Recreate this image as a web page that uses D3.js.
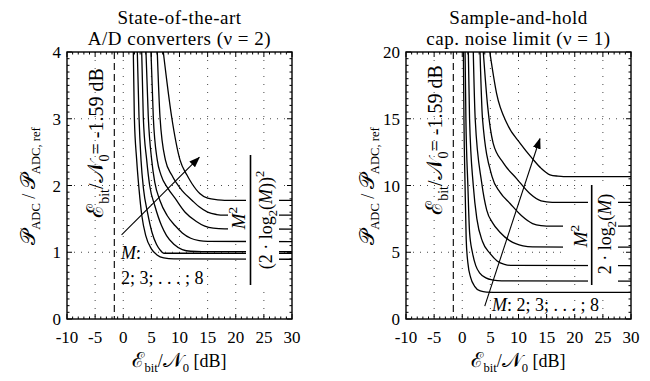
<!DOCTYPE html>
<html lang="en">
<head>
<meta charset="UTF-8">
<title>ADC power vs Eb/N0</title>
<script src="https://d3js.org/d3.v7.min.js"></script>
<style>
    body { margin: 0; padding: 0; background: #fff; }
    svg text { font-family: "Liberation Serif", "DejaVu Serif", serif; fill: #000; }
</style>
</head>
<body>
<div id="main"></div>
<script>
    // shared x axis: Eb/N0 in dB
    var xTicks = [-10, -5, 0, 5, 10, 15, 20, 25, 30];
    var xTickLabels = ['-10', '-5', '0', '5', '10', '15', '20', '25', '30'];
    var shannonLimit = -1.59;
    var mValues = [2, 3, 4, 5, 6, 7, 8];

    // left panel: state-of-the-art A/D converters (nu = 2)
    var leftYTicks = [0, 1, 2, 3, 4];
    var leftM2 = [[2.5, 4], [2.8, 3.03], [3.16, 2.38], [3.6, 1.95], [4.3, 1.6], [5.1, 1.3], [5.9, 1.12], [6.5, 1.04], [7.2, 0.985], [30, 0.985]];
    var leftM3 = [[1.79, 4], [1.97, 3.03], [2.39, 2.38], [2.8, 1.95], [3.3, 1.55], [4.0, 1.25], [5.0, 1.05], [6.0, 0.96], [7.2, 0.915], [9, 0.9], [30, 0.895]];
    var leftM4 = [[3.28, 4], [3.56, 3.03], [4.17, 2.38], [4.7, 2.0], [5.6, 1.7], [6.8, 1.4], [7.7, 1.25], [9, 1.12], [10.5, 1.04], [12, 1.015], [14, 1.01], [30, 1.01]];
    var leftM5 = [[4.04, 4], [4.45, 3.03], [5.06, 2.38], [5.6, 2.05], [6.5, 1.78], [7.8, 1.55], [9.2, 1.4], [10.5, 1.29], [12, 1.21], [13.5, 1.175], [15, 1.163], [30, 1.159]];
    var leftM6 = [[4.93, 4], [5.34, 3.03], [6.05, 2.38], [6.7, 2.16], [8, 1.95], [9.2, 1.81], [11, 1.6], [13, 1.46], [14.5, 1.39], [16, 1.36], [18, 1.35], [30, 1.347]];
    var leftM7 = [[6.05, 4], [6.53, 3.03], [7.5, 2.38], [8.6, 2.16], [10.5, 1.92], [12.2, 1.78], [13.5, 1.68], [15, 1.6], [16.6, 1.565], [18, 1.555], [30, 1.555]];
    var leftM8 = [[7.12, 4], [8.6, 3.03], [10.1, 2.38], [11.3, 2.16], [12.2, 2.03], [13.6, 1.88], [15, 1.81], [16.8, 1.785], [18, 1.778], [30, 1.778]];
    var leftArrow = [[-0.3, 1.26], [13.5, 2.42]];

    // right panel: sample-and-hold cap. noise limit (nu = 1)
    var rightYTicks = [0, 5, 10, 15, 20];
    var rightM2 = [[0.2, 20], [0.3, 15], [0.5, 10], [0.7, 6], [1.0, 4.2], [1.5, 3.1], [2.2, 2.45], [3.2, 2.1], [4.3, 2.01], [5.5, 2.0], [30, 2.0]];
    var rightM3 = [[0.5, 20], [0.65, 15], [1.0, 10], [1.3, 6.5], [1.8, 5.0], [2.4, 4.0], [3.16, 3.42], [4.2, 3.08], [5.5, 2.92], [7, 2.86], [30, 2.84]];
    var rightM4 = [[1.08, 20], [1.3, 15], [1.96, 10], [2.6, 7.5], [3.6, 5.8], [4.93, 4.92], [6.2, 4.35], [7.5, 4.1], [9, 4.01], [30, 4.0]];
    var rightM5 = [[1.96, 20], [2.3, 15], [3.46, 10.2], [4.35, 8.16], [5.4, 7.2], [6.7, 6.5], [8.5, 5.85], [10.8, 5.48], [12.5, 5.4], [30, 5.38]];
    var rightM6 = [[3.16, 20], [3.6, 15], [5.3, 10.66], [6.7, 9.5], [8.5, 8.65], [10.5, 7.75], [12.5, 7.15], [14, 7.0], [16, 6.96], [30, 6.96]];
    var rightM7 = [[3.74, 20], [4.5, 16], [5.5, 13.16], [7.3, 11.7], [9.7, 10.5], [12, 9.4], [14, 8.85], [16, 8.74], [30, 8.73]];
    var rightM8 = [[4.9, 20], [6.1, 16.9], [8, 14.6], [10.3, 13.16], [12.5, 12.0], [14, 11.3], [15.6, 10.8], [17, 10.7], [18, 10.67], [30, 10.67]];
    var rightArrow = [[4.0, 0.97], [13.8, 13.5]];

    var W = 650, H = 381;
    var plotTop = 52, plotBottom = 319, plotWidth = 225;

    var svg = d3.select('#main').append('svg')
        .attr('width', W).attr('height', H);

    var defs = svg.append('defs');
    defs.append('marker')
        .attr('id', 'arrowhead')
        .attr('viewBox', '0 0 10 10')
        .attr('refX', 9).attr('refY', 5)
        .attr('markerWidth', 11).attr('markerHeight', 8)
        .attr('markerUnits', 'userSpaceOnUse')
        .attr('preserveAspectRatio', 'none')
        .attr('orient', 'auto')
        .append('path').attr('d', 'M0,0 L10,5 L0,10 z').attr('fill', '#000');

    // text with sub/superscripts: parts = [text, 'sub'|'sup'|'big'|'', italic]
    function addParts(t, parts, size) {
        var shift = 0;
        parts.forEach(function(pt) {
            var s = pt[1] || '';
            var want = s === 'sub' ? size * 0.3 : (s === 'sup' ? -size * 0.42 : 0);
            var ts = t.append('tspan').text(pt[0]).attr('dy', want - shift);
            shift = want;
            if (s === 'sub' || s === 'sup') ts.style('font-size', (size * 0.7) + 'px');
            if (s === 'big') ts.style('font-size', (size * 1.15) + 'px');
            if (pt[2]) ts.style('font-style', 'italic');
        });
        return t;
    }

    var ebnoParts = [['ℰ', 'big'], ['bit', 'sub'], ['/'], ['𝒩', 'big'], ['0', 'sub']];
    var padcParts = [['𝒫', 'big'], ['ADC', 'sub'], [' / '], ['𝒫', 'big'], ['ADC, ref', 'sub']];

    function drawPanel(p) {
        var x = d3.scaleLinear().domain([-10, 30]).range([p.left, p.left + plotWidth]);
        var y = d3.scaleLinear().domain([0, p.yMax]).range([plotBottom, plotTop]);
        var g = svg.append('g');

        defs.append('clipPath').attr('id', 'clip' + p.id)
            .append('rect')
            .attr('x', p.left).attr('y', plotTop)
            .attr('width', plotWidth).attr('height', plotBottom - plotTop);

        // dotted grid
        g.selectAll('.vgrid').data(xTicks.slice(1, -1)).enter().append('line')
            .attr('x1', d => x(d)).attr('x2', d => x(d))
            .attr('y1', plotTop).attr('y2', plotBottom)
            .attr('stroke', '#333').attr('stroke-width', 0.9)
            .attr('stroke-dasharray', '1,7');
        g.selectAll('.hgrid').data(p.yTicks.slice(1, -1)).enter().append('line')
            .attr('x1', p.left).attr('x2', p.left + plotWidth)
            .attr('y1', d => y(d)).attr('y2', d => y(d))
            .attr('stroke', '#333').attr('stroke-width', 0.9)
            .attr('stroke-dasharray', '1,6');

        // Shannon limit
        g.append('line')
            .attr('x1', x(shannonLimit)).attr('x2', x(shannonLimit))
            .attr('y1', plotTop).attr('y2', plotBottom)
            .attr('stroke', '#000').attr('stroke-width', 1.1)
            .attr('stroke-dasharray', '7,4');

        var line = d3.line()
            .x(d => x(d[0])).y(d => y(d[1]))
            .curve(d3.curveMonotoneX);

        g.append('g').attr('clip-path', 'url(#clip' + p.id + ')')
            .selectAll('path').data(p.curves).enter().append('path')
            .attr('d', line)
            .attr('fill', 'none').attr('stroke', '#000').attr('stroke-width', 1.3);

        // white boxes behind the M^2 / denominator labels
        p.masks.forEach(function(m) {
            g.append('rect')
                .attr('x', p.left + m[0]).attr('y', m[1])
                .attr('width', m[2]).attr('height', m[3])
                .attr('fill', '#fff');
        });

        // M^2 over denominator, rotated
        addParts(g.append('text')
            .attr('transform', 'translate(' + (p.left + p.num[0]) + ',' + p.num[1] + ') rotate(-90)')
            .attr('text-anchor', 'middle').style('font-size', '19px'),
            [['M', '', true], ['2', 'sup']], 19);
        g.append('line')
            .attr('x1', p.left + p.bar[0]).attr('x2', p.left + p.bar[0])
            .attr('y1', p.bar[1]).attr('y2', p.bar[2])
            .attr('stroke', '#000').attr('stroke-width', 1.6);
        addParts(g.append('text')
            .attr('transform', 'translate(' + (p.left + p.den[0]) + ',' + p.den[1] + ') rotate(-90)')
            .attr('text-anchor', 'middle').style('font-size', '18px'),
            p.denParts, 18);

        // Shannon limit label
        addParts(g.append('text')
            .attr('transform', 'translate(' + (p.left + p.lim[0]) + ',' + p.lim[1] + ') rotate(-90)')
            .attr('text-anchor', 'middle').style('font-size', '20px'),
            ebnoParts.concat([['= -1.59 dB']]), 20);

        // arrow for increasing M
        g.append('line')
            .attr('x1', x(p.arrow[0][0])).attr('y1', y(p.arrow[0][1]))
            .attr('x2', x(p.arrow[1][0])).attr('y2', y(p.arrow[1][1]))
            .attr('stroke', '#000').attr('stroke-width', 1.1)
            .attr('marker-end', 'url(#arrowhead)');

        p.mLabel.forEach(function(l) {
            addParts(g.append('text')
                .attr('x', p.left + l[0]).attr('y', l[1])
                .style('font-size', '18px'), l[2], 18);
        });

        // frame and inward ticks
        var xMinor = d3.range(-10, 31, 1);
        var yMinor = d3.range(0, 41).map(i => i * p.yMax / 40);
        var tickSel = g.append('g').attr('stroke', '#000').attr('stroke-width', 1);
        xMinor.forEach(function(v) {
            var len = (v % 5 === 0) ? 5 : 2.5;
            tickSel.append('line').attr('x1', x(v)).attr('x2', x(v)).attr('y1', plotBottom).attr('y2', plotBottom - len);
            tickSel.append('line').attr('x1', x(v)).attr('x2', x(v)).attr('y1', plotTop).attr('y2', plotTop + len);
        });
        yMinor.forEach(function(v, i) {
            var len = (i % 10 === 0) ? 5 : 2.5;
            tickSel.append('line').attr('y1', y(v)).attr('y2', y(v)).attr('x1', p.left).attr('x2', p.left + len);
            tickSel.append('line').attr('y1', y(v)).attr('y2', y(v)).attr('x1', p.left + plotWidth).attr('x2', p.left + plotWidth - len);
        });
        g.append('rect')
            .attr('x', p.left).attr('y', plotTop)
            .attr('width', plotWidth).attr('height', plotBottom - plotTop)
            .attr('fill', 'none').attr('stroke', '#000').attr('stroke-width', 1.4);

        // tick labels
        g.selectAll('.xtl').data(xTicks).enter().append('text')
            .attr('x', d => x(d)).attr('y', plotBottom + 24)
            .attr('text-anchor', 'middle').style('font-size', '17px')
            .text((d, i) => xTickLabels[i]);
        g.selectAll('.ytl').data(p.yTicks).enter().append('text')
            .attr('x', p.left - 6).attr('y', d => y(d) + 6)
            .attr('text-anchor', 'end').style('font-size', '17px')
            .text(d => d);

        // axis labels and title
        var cx = p.left + plotWidth / 2;
        addParts(g.append('text')
            .attr('x', cx).attr('y', 367)
            .attr('text-anchor', 'middle').style('font-size', '18px'),
            ebnoParts.concat([[' [dB]']]), 18);
        addParts(g.append('text')
            .attr('transform', 'translate(' + (p.left - 32) + ',186) rotate(-90)')
            .attr('text-anchor', 'middle').style('font-size', '18px'),
            padcParts, 18);
        g.append('text').attr('x', cx).attr('y', 24)
            .attr('text-anchor', 'middle').style('font-size', '19px')
            .style('letter-spacing', '0.5px')
            .text(p.title[0]);
        g.append('text').attr('x', cx).attr('y', 45)
            .attr('text-anchor', 'middle').style('font-size', '19px')
            .style('letter-spacing', '0.5px')
            .text(p.title[1]);
    }

    drawPanel({
        id: 'L', left: 67, yMax: 4, yTicks: leftYTicks,
        curves: [leftM2, leftM3, leftM4, leftM5, leftM6, leftM7, leftM8],
        arrow: leftArrow,
        masks: [[161, 203, 18, 34], [179, 150, 33, 140]],
        num: [178, 218], bar: [183.5, 155, 285], den: [205, 220],
        denParts: [['(2 · log'], ['2', 'sub'], ['('], ['M', '', true], ['))'], ['2', 'sup']],
        lim: [36, 143],
        mLabel: [[54, 259, [['M', '', true], [':']]], [54, 284, [['2; 3; . . . ; 8']]]],
        title: ['State-of-the-art', 'A/D converters (ν = 2)']
    });

    drawPanel({
        id: 'R', left: 406, yMax: 20, yTicks: rightYTicks,
        curves: [rightM2, rightM3, rightM4, rightM5, rightM6, rightM7, rightM8],
        arrow: rightArrow,
        masks: [[157, 212, 25, 45], [182, 184, 30, 103]],
        num: [181, 236], bar: [185.7, 185, 285], den: [205, 234],
        denParts: [['2 · log'], ['2', 'sub'], ['('], ['M', '', true], [')']],
        lim: [36, 140],
        mLabel: [[86, 311, [['M', '', true], [': 2; 3; . . . ; 8']]]],
        title: ['Sample-and-hold', 'cap. noise limit (ν = 1)']
    });
</script>
</body>
</html>
